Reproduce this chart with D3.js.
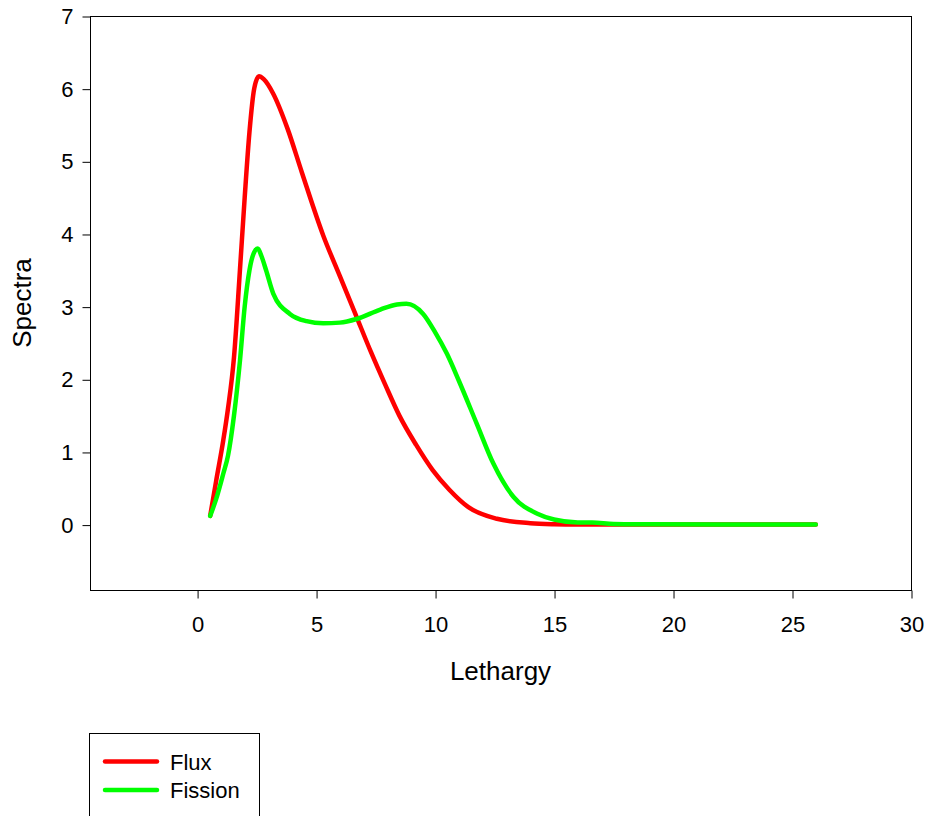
<!DOCTYPE html>
<html><head><meta charset="utf-8">
<script src="https://cdn.jsdelivr.net/npm/d3@7"></script>
<style>body{margin:0;background:#fff}svg{display:block}text{font-family:"Liberation Sans",Arial,sans-serif}</style>
</head><body>
<svg id="c" width="926" height="816"></svg>
<script>
const fluxLethargy = [0.55,0.8,1.1,1.3,1.55,1.8,2.0,2.2,2.4,2.6,2.8,3.2,3.8,4.4,5.3,6.0,6.7,7.3,7.9,8.5,9.2,9.9,10.6,11.4,12.6,14,15,16,18,22,26];
const flux         = [0.12,0.6,1.16,1.6,2.3,3.5,4.5,5.4,6.0,6.17,6.13,5.93,5.45,4.85,3.98,3.42,2.86,2.38,1.93,1.5,1.1,0.75,0.48,0.24,0.08,0.02,0.005,0,0,0,0];
const fissionLethargy = [0.55,0.8,1.1,1.3,1.55,1.8,2.0,2.2,2.4,2.55,2.7,2.9,3.2,3.9,4.6,5.3,6.0,6.7,7.7,8.4,8.8,9.5,10.0,10.5,11.0,11.75,12.45,13.3,14.3,15,16,16.6,17.5,19,22,26];
const fission         = [0.12,0.35,0.7,0.95,1.5,2.25,3.0,3.5,3.75,3.8,3.7,3.5,3.18,2.9,2.8,2.77,2.78,2.83,2.96,3.03,3.04,2.9,2.65,2.35,1.98,1.39,0.84,0.38,0.15,0.07,0.03,0.03,0.01,0.005,0,0];
const xTicks = [0,5,10,15,20,25,30];
const yTicks = [0,1,2,3,4,5,6,7];
const seriesNames = ["Flux","Fission"];
const seriesColors = ["#ff0000","#00ff00"];

const svg = d3.select("#c");
const m = {l:90,t:16,r:911,b:590};
const x = d3.scaleLinear().domain([-4.5,30]).range([m.l,m.r]);
const y = d3.scaleLinear().domain([-0.9,7]).range([m.b,m.t]);

const g = svg.append("g");
g.append("rect").attr("x",m.l+0.5).attr("y",m.t+0.5).attr("width",m.r-m.l).attr("height",m.b-m.t)
 .attr("fill","none").attr("stroke","#000").attr("stroke-width",1);

const xa = g.append("g").attr("transform",`translate(0.5,${m.b+0.5})`)
  .call(d3.axisBottom(x).tickValues(xTicks).tickSize(8).tickPadding(18).tickFormat(d3.format("d")));
const ya = g.append("g").attr("transform",`translate(${m.l+0.5},0.5)`)
  .call(d3.axisLeft(y).tickValues(yTicks).tickSize(8).tickPadding(9).tickFormat(d3.format("d")));
[xa,ya].forEach(a=>{a.select(".domain").remove();a.selectAll("text").attr("font-size",22).attr("fill","#000").style("font-family","'Liberation Sans',Arial,sans-serif");a.selectAll("line").attr("stroke","#000");});

const series = [[fluxLethargy,flux],[fissionLethargy,fission]];
const line = d3.line().curve(d3.curveMonotoneX);
series.forEach(([xs,vs],i)=>{
  g.append("path").attr("d", line(xs.map((u,k)=>[x(u),y(vs[k])])))
   .attr("fill","none").attr("stroke",seriesColors[i]).attr("stroke-width",4.5)
   .attr("stroke-linejoin","round").attr("stroke-linecap","round");
});

svg.append("text").attr("x",(m.l+m.r)/2).attr("y",680).attr("text-anchor","middle").attr("font-size",26).text("Lethargy");
svg.append("text").attr("transform",`translate(31,${(m.t+m.b)/2}) rotate(-90)`).attr("text-anchor","middle").attr("font-size",26).text("Spectra");

const lg = svg.append("g");
lg.append("rect").attr("x",89.5).attr("y",733.5).attr("width",170).attr("height",120).attr("fill","#fff").attr("stroke","#000").attr("stroke-width",1);
seriesNames.forEach((n,i)=>{
  const yy = 761.5 + i*28.5;
  lg.append("line").attr("x1",105).attr("x2",157).attr("y1",yy).attr("y2",yy).attr("stroke",seriesColors[i]).attr("stroke-width",4.5).attr("stroke-linecap","round");
  lg.append("text").attr("x",170).attr("y",yy+8).attr("font-size",22).text(n);
});
</script>
</body></html>
